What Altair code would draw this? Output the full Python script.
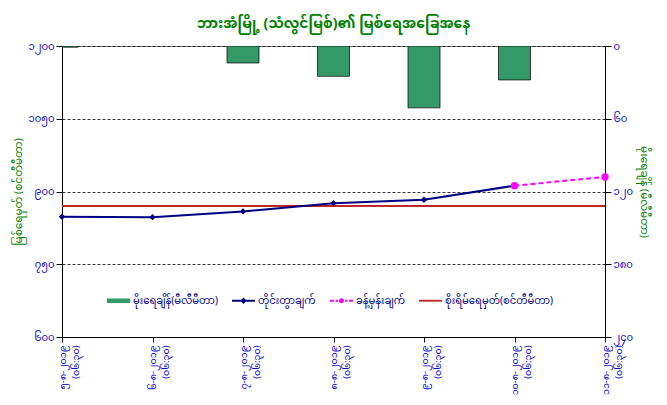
import altair as alt
import pandas as pd

# ---------------- data ----------------
dates = ["၅-၈-၂၀၁၉", "၆-၈-၂၀၁၉", "၇-၈-၂၀၁၉", "၈-၈-၂၀၁၉",
         "၉-၈-၂၀၁၉", "၁၀-၈-၂၀၁၉", "၁၁-၈-၂၀၁၉"]
times = ["(၀၆:၃၀)"] * 7
rain = [1, 0, 14, 25, 51, 28, None]            # mm (right axis)
level = [848, 847, 859, 876, 883, 912, None]   # measured water level (cm)
forecast = [None, None, None, None, None, 912, 930]
danger = 870

left_ticks = [600, 750, 900, 1050, 1200]
left_labels = ["၆၀၀", "၇၅၀", "၉၀၀", "၁၀၅၀", "၁၂၀၀"]
right_ticks = [0, 60, 120, 180, 240]
right_labels = ["၀", "၆၀", "၁၂၀", "၁၈၀", "၂၄၀"]

series = ["မိုးရေချိန်(မီလီမီတာ)", "တိုင်းတွာချက်", "ခန့်မှန်းချက်",
          "စိုးရိမ်ရေမှတ်(စင်တီမီတာ)"]
colors = ["#339966", "#000080", "#FF00FF", "#C02828"]

title = "ဘားအံမြို့ (သံလွင်မြစ်)၏ မြစ်ရေအခြေအနေ"
left_title = "မြစ်ရေမှတ် (စင်တီမီတာ)"
right_title = "မိုးရေချိန် (မီလီမီတာ)"

FONT = "Noto Sans Myanmar, Padauk, Myanmar Text, Noto Sans, sans-serif"

cats = [d + "|" + t for d, t in zip(dates, times)]
df = pd.DataFrame({"cat": cats, "rain": rain, "level": level, "forecast": forecast})
legend_df = pd.DataFrame({"series": series})
danger_df = pd.DataFrame({"danger": [danger]})


def lookup_expr(vals, labs):
    return "[" + ",".join("'" + l + "'" for l in labs) + "][indexof([" + \
        ",".join(str(v) for v in vals) + "], datum.value)]"


x = alt.X("cat:N", sort=cats, title=None,
          scale=alt.Scale(type="point", padding=0),
          axis=alt.Axis(labelExpr="split(datum.label,'|')", labelAngle=270,
                        labelAlign="right", labelBaseline="middle",
                        labelColor="#0000CC", labelFontSize=9.5, labelFont=FONT,
                        labelLineHeight=13, tickColor="black", tickSize=5,
                        domainColor="black", labelPadding=3, grid=False))

ydom = alt.Scale(domain=[600, 1200], nice=False, zero=False)
left_axis = alt.Axis(orient="left", values=left_ticks,
                     labelExpr=lookup_expr(left_ticks, left_labels),
                     labelColor="#0000CC", labelFontSize=10, labelFont=FONT,
                     titleColor="#008000", titleFont=FONT, titleFontSize=10.5,
                     titleFontWeight="normal", titleAngle=270, titlePadding=4,
                     tickColor="black", tickSize=6, domainColor="black",
                     grid=True, gridColor="black", gridDash=[3, 2],
                     gridWidth=0.8)


def yleft(field):
    return alt.Y(field, scale=ydom, title=left_title, axis=left_axis)


# rain bars (right axis)
bars = alt.Chart(df).transform_filter("datum.rain > 0").mark_bar(
    size=32, color="#339966", stroke="black", strokeWidth=0.7, clip=True).encode(
    x=x,
    y=alt.Y("rain:Q", title=right_title,
            scale=alt.Scale(domain=[0, 240], reverse=True, nice=False),
            axis=alt.Axis(orient="right", values=right_ticks,
                          labelExpr=lookup_expr(right_ticks, right_labels),
                          labelColor="#0000CC", labelFontSize=10, labelFont=FONT,
                          titleColor="#008000", titleFont=FONT, titleFontSize=10.5,
                          titleFontWeight="normal", titleAngle=90, titlePadding=6,
                          tickColor="black", tickSize=6, domainColor="black",
                          grid=False)),
)

danger_rule = alt.Chart(danger_df).mark_rule(color="#C02828", strokeWidth=2).encode(
    y=yleft("danger:Q"))

base = alt.Chart(df).encode(x=x)
meas = base.transform_filter("isValid(datum.level)")
fc = base.transform_filter("isValid(datum.forecast)")
meas_line = meas.mark_line(color="#000080", strokeWidth=2).encode(y=yleft("level:Q"))
meas_pts = meas.mark_point(shape="diamond", filled=True, color="#000080",
                           size=40, opacity=1).encode(y=yleft("level:Q"))
fc_line = fc.mark_line(color="#FF00FF", strokeWidth=2, strokeDash=[5, 3]).encode(
    y=yleft("forecast:Q"))
fc_pts = fc.mark_point(shape="circle", filled=True, color="#FF00FF",
                       size=55, opacity=1).encode(y=yleft("forecast:Q"))

shapes = [
    "M-1,-0.2H1V0.2H-1Z",
    "M-1,-0.08H1V0.08H-1Z M0,-0.28L0.28,0L0,0.28L-0.28,0Z",
    "M-1,-0.08H-0.65V0.08H-1Z M-0.52,-0.08H-0.3V0.08H-0.52Z "
    "M0.3,-0.08H0.52V0.08H0.3Z M0.65,-0.08H1V0.08H0.65Z "
    "M-0.22,0A0.22,0.22 0 1,1 0.22,0A0.22,0.22 0 1,1 -0.22,0Z",
    "M-1,-0.08H1V0.08H-1Z",
]

leg = alt.Legend(title=None, orient="none", legendX=45, legendY=243,
                 direction="horizontal", columns=4, columnPadding=14,
                 symbolSize=529, labelFont=FONT, labelFontSize=10,
                 labelColor="#000080", labelOffset=3, symbolStrokeWidth=0,
                 symbolOpacity=1)

legend_layer = alt.Chart(legend_df).mark_point(filled=True, size=0).encode(
    fill=alt.Fill("series:N", sort=series,
                  scale=alt.Scale(domain=series, range=colors), legend=leg),
    shape=alt.Shape("series:N", sort=series,
                    scale=alt.Scale(domain=series, range=shapes), legend=leg),
)

left_group = alt.layer(danger_rule, meas_line, fc_line, meas_pts, fc_pts, legend_layer)

chart = alt.layer(bars, left_group).resolve_scale(y="independent").properties(
    width=543, height=291,
    title=alt.TitleParams(title, font=FONT, fontSize=14, fontWeight="bold",
                          color="#008000", anchor="middle", offset=10),
    padding={"left": 54, "top": 38, "right": 54, "bottom": 59},
    autosize=alt.AutoSizeParams(type="none"),
    background="white",
).configure_view(fill="#CCFFFF", stroke="#808080", strokeWidth=1)

chart.save("out.html", embed_options={"renderer": "svg", "actions": False})
